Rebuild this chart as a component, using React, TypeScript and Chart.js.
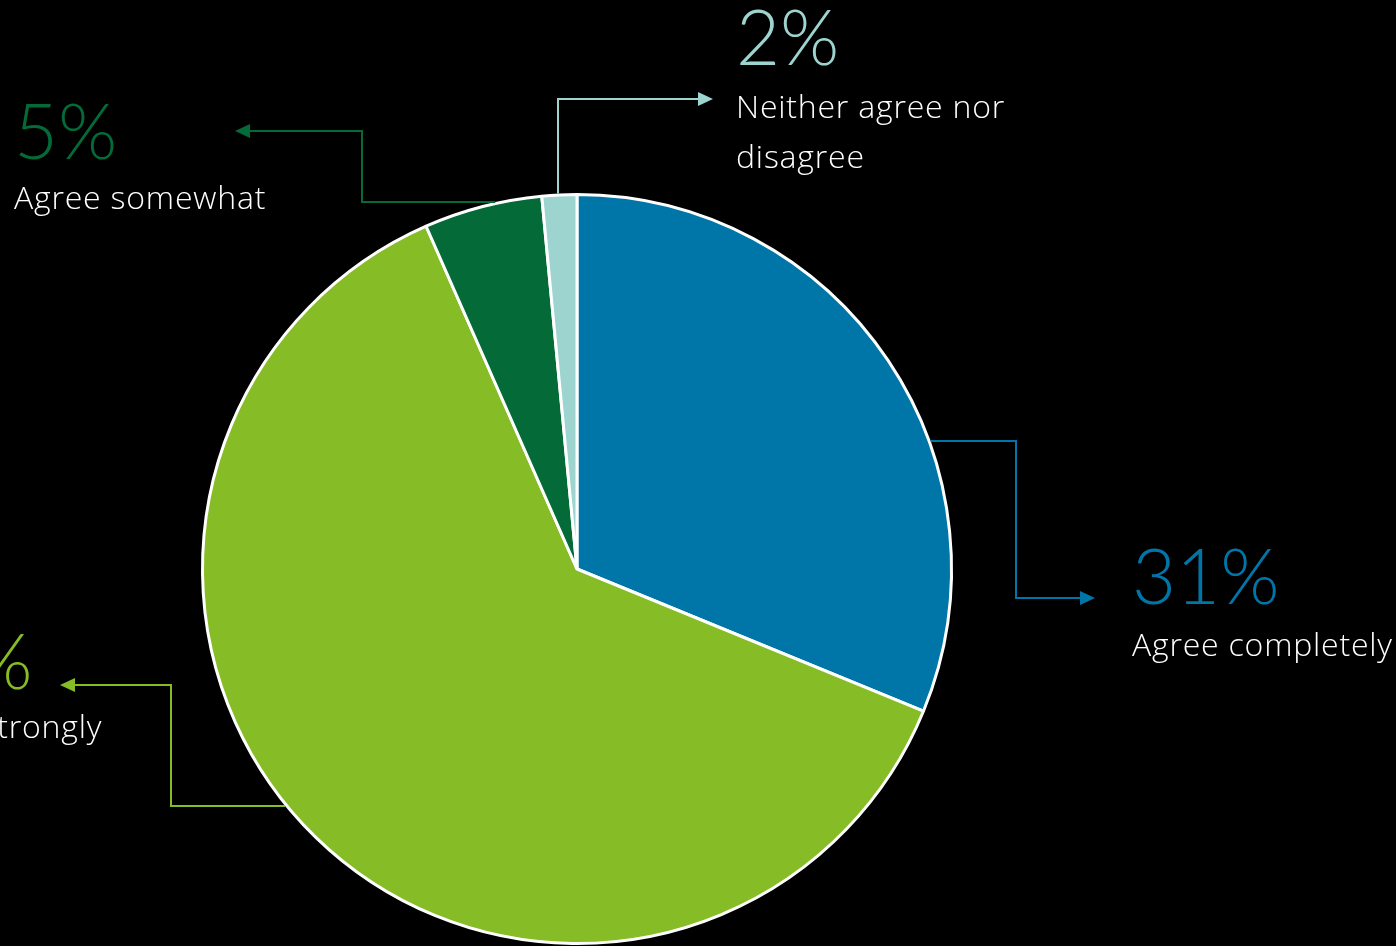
import React, { useEffect, useRef } from "react";
import { Chart, registerables } from "chart.js";

Chart.register(...registerables);

// ---- data ----
const categories = ["Agree completely", "Agree strongly", "Agree somewhat", "Neither agree nor disagree"];
const shares = [31.2, 62.2, 5.1, 1.5];
const percentLabels = ["31%", "62%", "5%", "2%"];
const labelLines = [["Agree completely"], ["Agree strongly"], ["Agree somewhat"], ["Neither agree nor", "disagree"]];
const sliceColors = ["#0076A8", "#86BC25", "#046A38", "#9DD4CF"];

// ---- callout layout (offsets from pie centre, px) ----
type Callout = {
  axis: "h" | "v";
  off: number;
  side: 1 | -1;
  pts: [number, number][];
  textX: number;
  pctY: number;
  lineYs: number[];
};
const callouts: Callout[] = [
  { axis: "h", off: -128, side: 1, pts: [[439, -128], [439, 29], [518, 29]], textX: 555, pctY: 35, lineYs: [87] },
  { axis: "h", off: 237, side: -1, pts: [[-406, 237], [-406, 116], [-517, 116]], textX: -692, pctY: 120, lineYs: [169] },
  { axis: "h", off: -367, side: -1, pts: [[-215, -367], [-215, -438], [-342, -438]], textX: -563, pctY: -410, lineYs: [-360] },
  { axis: "v", off: -19, side: -1, pts: [[-19, -470], [136, -470]], textX: 159, pctY: -504, lineYs: [-451, -401] },
];

const PCT_FONT = "Lato, 'Open Sans', sans-serif";
const LABEL_FONT = "'Open Sans', Lato, sans-serif";

const calloutPlugin = {
  id: "callouts",
  beforeDraw(chart: any) {
    const ctx = chart.ctx;
    ctx.save();
    ctx.fillStyle = "#000";
    ctx.fillRect(0, 0, chart.width, chart.height);
    ctx.restore();
  },
  afterDraw(chart: any) {
    const ctx: CanvasRenderingContext2D = chart.ctx;
    const meta = chart.getDatasetMeta(0);
    const arc = meta.data[0];
    const { x: cx, y: cy, outerRadius } = arc.getProps(["x", "y", "outerRadius"], true);
    const r = outerRadius + 1.5;
    callouts.forEach((c, i) => {
      const color = sliceColors[i];
      ctx.save();
      ctx.strokeStyle = color;
      ctx.fillStyle = color;
      ctx.lineWidth = 2;
      let sx: number, sy: number;
      if (c.axis === "h") {
        sy = cy + c.off;
        sx = cx + c.side * Math.sqrt(Math.max(r * r - c.off * c.off, 0));
      } else {
        sx = cx + c.off;
        sy = cy + c.side * Math.sqrt(Math.max(r * r - c.off * c.off, 0));
      }
      const pts = c.pts.map(([dx, dy]) => [cx + dx, cy + dy]);
      const last = pts[pts.length - 1];
      const prev = pts[pts.length - 2];
      const ang = Math.atan2(last[1] - prev[1], last[0] - prev[0]);
      const headLen = 15;
      const headW = 7;
      ctx.beginPath();
      ctx.moveTo(sx, sy);
      pts.forEach((p, k) => {
        if (k === pts.length - 1) {
          ctx.lineTo(p[0] - Math.cos(ang) * (headLen - 2), p[1] - Math.sin(ang) * (headLen - 2));
        } else ctx.lineTo(p[0], p[1]);
      });
      ctx.stroke();
      ctx.beginPath();
      ctx.moveTo(last[0], last[1]);
      ctx.lineTo(last[0] - Math.cos(ang) * headLen - Math.sin(ang) * headW, last[1] - Math.sin(ang) * headLen + Math.cos(ang) * headW);
      ctx.lineTo(last[0] - Math.cos(ang) * headLen + Math.sin(ang) * headW, last[1] - Math.sin(ang) * headLen - Math.cos(ang) * headW);
      ctx.closePath();
      ctx.fill();

      ctx.textAlign = "left";
      ctx.textBaseline = "alphabetic";
      ctx.font = `300 76px ${PCT_FONT}`;
      ctx.fillStyle = color;
      ctx.fillText(percentLabels[i], cx + c.textX, cy + c.pctY);
      ctx.font = `300 32px ${LABEL_FONT}`;
      (ctx as any).letterSpacing = "0.8px";
      ctx.fillStyle = "#ffffff";
      labelLines[i].forEach((t, k) => ctx.fillText(t, cx + c.textX, cy + c.lineYs[k]));
      ctx.restore();
    });
  },
};

export default function App() {
  const ref = useRef<HTMLCanvasElement | null>(null);
  useEffect(() => {
    document.body.style.margin = "0";
    document.body.style.background = "#000";
    const canvas = ref.current;
    if (!canvas) return;
    const chart = new Chart(canvas, {
      type: "pie",
      data: {
        labels: categories,
        datasets: [
          {
            data: shares,
            backgroundColor: sliceColors,
            borderColor: "#ffffff",
            borderWidth: 3,
          },
        ],
      },
      options: {
        responsive: false,
        animation: false,
        rotation: 0,
        layout: { padding: { left: 201, top: 193, right: 443, bottom: 1 } },
        plugins: { legend: { display: false }, tooltip: { enabled: false } },
      },
      plugins: [calloutPlugin],
    });
    return () => chart.destroy();
  }, []);
  return (
    <div style={{ width: 1396, height: 946, background: "#000" }}>
      <canvas ref={ref} width={1396} height={946} style={{ display: "block" }} />
    </div>
  );
}
